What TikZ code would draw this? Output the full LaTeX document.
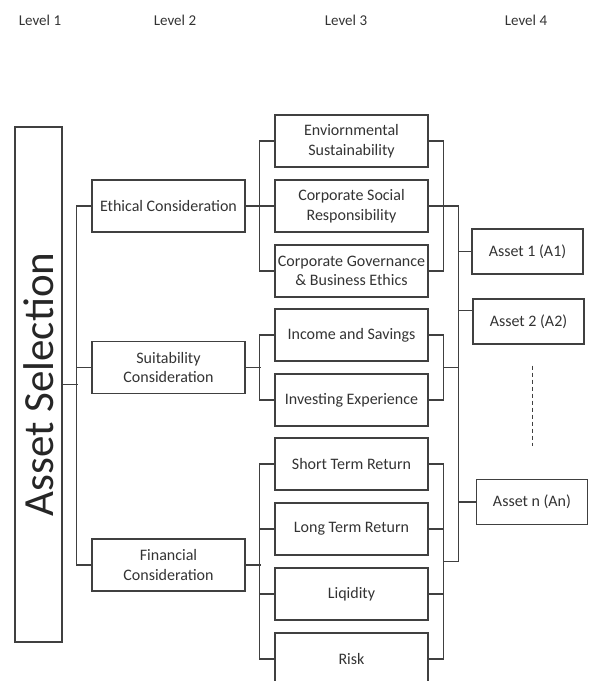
\documentclass[tikz,border=0pt]{standalone}
\usepackage{fontspec}
\setmainfont{Carlito}
\usetikzlibrary{positioning, calc}

\begin{document}
\begin{tikzpicture}[
    x=1pt, y=-1pt,
    box/.style={draw=black!75, line width=1.1pt, minimum width=153pt,
                minimum height=52pt, align=center, inner sep=1pt,
                text=black!80, font=\fontsize{16}{19.5}\selectfont},
    asset/.style={box, minimum width=111pt, minimum height=45pt},
    link/.style={draw=black!75, line width=1.1pt},
    head/.style={text=black!80, font=\fontsize{15}{18}\selectfont}
  ]
  \useasboundingbox (0,0) rectangle (589,681);

  % Headings
  \foreach \x/\n in {40/1, 175/2, 346/3, 526/4}
    \node[head] (head\n) at (\x,20) {Level \n};

  % Level 1
  \node[draw=black!75, line width=1.1pt, rotate=90, minimum width=515pt,
        minimum height=47pt, inner sep=0pt, text=black!85,
        font=\fontsize{43}{43}\selectfont] (sel) at (38.5,384.5) {Asset Selection};

  % Level 2
  \node[box] (eth) at (168.5,206) {Ethical Consideration};
  \node[box] (suit) at (168.5,367.5) {Suitability\\Consideration};
  \node[box] (fin) at (168.5,565) {Financial\\Consideration};

  % Level 3
  \node[box] (envi) at (351.5,141) {Enviornmental\\Sustainability};
  \node[box] (csr) at (351.5,206) {Corporate Social\\Responsibility};
  \node[box] (cgbe) at (351.5,271) {Corporate Governance\\\& Business Ethics};
  \node[box] (inc) at (351.5,335) {Income and Savings};
  \node[box] (inv) at (351.5,400) {Investing Experience};
  \node[box] (str) at (351.5,464) {Short Term Return};
  \node[box] (ltr) at (351.5,529) {Long Term Return};
  \node[box] (liq) at (351.5,594) {Liqidity};
  \node[box] (risk) at (351.5,659) {Risk};

  % Level 4
  \node[asset] (a1) at (527.5,251.5) {Asset 1 (A1)};
  \node[asset] (a2) at (528.5,321.5) {Asset 2 (A2)};
  \node[asset] (an) at (532,502) {Asset n (An)};

  % Level 1 -> Level 2
  \draw[link] (sel.south) -- ++(15pt,0);
  \draw[link] (eth.west) -- ++(-15pt,0) |- (fin.west);
  \draw[link] (suit.west) -- ++(-15pt,0);

  % Level 2 -> Level 3
  \draw[link] (envi.west) -- ++(-15pt,0) |- (cgbe.west);
  \draw[link] (eth.east) -- (csr.west);
  \draw[link] (inc.west) -- ++(-15pt,0) |- (inv.west);
  \draw[link] (suit.east) -- ++(15pt,0);
  \draw[link] (str.west) -- ++(-15pt,0) |- (risk.west);
  \draw[link] (ltr.west) -- ++(-15pt,0);
  \draw[link] (liq.west) -- ++(-15pt,0);
  \draw[link] (fin.east) -- ++(15pt,0);

  % Level 3 -> Level 4
  \draw[link] (envi.east) -- ++(15pt,0) |- (cgbe.east);
  \draw[link] (inc.east) -- ++(15pt,0) |- (inv.east);
  \draw[link] (str.east) -- ++(15pt,0) |- (risk.east);
  \draw[link] (ltr.east) -- ++(15pt,0);
  \draw[link] (liq.east) -- ++(15pt,0);
  \coordinate (tiesuit) at ($(inc.east)!0.5!(inv.east) + (15pt,0)$);
  \coordinate (tiefin) at ($(str.east)!0.5!(risk.east) + (15pt,0)$);
  \draw[link] (csr.east) -- ++(30pt,0) coordinate (bus) -- (bus |- tiefin) -- (tiefin);
  \draw[link] (tiesuit) -- (tiesuit -| bus);
  \draw[link] (a1.west) -- (a1.west -| bus);
  \draw[link] ([yshift=11pt]a2.west) -- ([yshift=11pt]a2.west -| bus);
  \draw[link] (an.west) -- (an.west -| bus);

  % Dots between assets
  \coordinate (dots) at (an.north |- a2.south);
  \draw[link, line width=0.9pt, dash pattern=on 4pt off 3pt]
    ([yshift=-21pt]dots) -- ([yshift=33pt]an.north);

\end{tikzpicture}
\end{document}
